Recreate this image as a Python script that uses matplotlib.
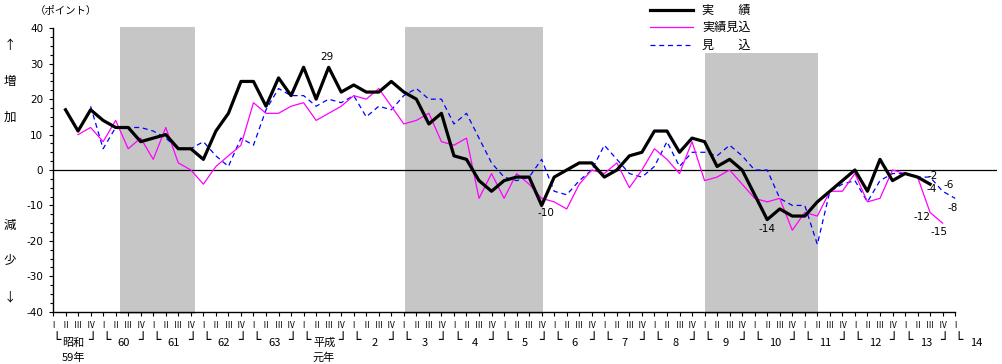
import numpy as np
import matplotlib
matplotlib.use('Agg')
import matplotlib.pyplot as plt
from matplotlib.lines import Line2D
from matplotlib.transforms import blended_transform_factory

plt.rcParams['font.family'] = ['Noto Sans CJK JP', 'DejaVu Sans']

# quarter index 0 = 昭和59年 I期
jisseki_start = 1
jisseki = [17, 11, 17, 14, 12, 12, 8, 9, 10, 6, 6, 3, 11, 16, 25, 25, 18, 26, 21, 29,
           20, 29, 22, 24, 22, 22, 25, 22, 20, 13, 16, 4, 3, -3, -6, -3, -2, -2, -10, -2,
           0, 2, 2, -2, 0, 4, 5, 11, 11, 5, 9, 8, 1, 3, 0, -7, -14, -11, -13, -13,
           -9, -6, -3, 0, -6, 3, -3, -1, -2, -4]

mikomi_j_start = 2
mikomi_j = [10, 12, 8, 14, 6, 9, 3, 12, 2, 0, -4, 1, 4, 7, 19, 16, 16, 18, 19, 14,
            16, 18, 21, 20, 23, 18, 13, 14, 16, 8, 7, 9, -8, -1, -8, -1, -4, -8, -9, -11,
            -4, 0, -1, 2, -5, 0, 6, 3, -1, 8, -3, -2, 0, -4, -8, -9, -8, -17, -12, -13,
            -6, -6, -1, -9, -8, 0, -1, -2, -12, -15]

mikomi_start = 3
mikomi = [18, 6, 12, 12, 12, 11, 9, 6, 6, 8, 4, 1, 9, 7, 17, 23, 21, 21, 18, 20,
          19, 21, 15, 18, 17, 21, 23, 20, 20, 13, 16, 9, 2, -2, -3, -2, 3, -6, -7, -3,
          0, 7, 3, -1, -2, 1, 8, 1, 5, 5, 4, 7, 4, 0, 0, -8, -10, -10, -21, -6,
          -4, -3, -9, -3, -1, -1, -2, -2, -6, -8]

# recession shading (quarter index from, to, top value)
shades = [(5.35, 11.35, 40.5), (28.1, 39.1, 40.5), (52.0, 61.05, 33)]

years = ['昭和', '60', '61', '62', '63', '平成', '2', '3', '4', '5', '6', '7',
         '8', '9', '10', '11', '12', '13', '14']
year_notes = {0: '59年', 5: '元年'}
quarters = ['Ⅰ', 'Ⅱ', 'Ⅲ', 'Ⅳ']
n_q = 72

# labelled points: (series, quarter, text, dx px, dy px up)
notes = [('j', 22, '29', -2, 10), ('j', 39, '-10', 4, -8), ('j', 57, '-14', 0, -9),
         ('m', 70, '-2', 3, 1), ('j', 70, '-4', 2, -5), ('mj', 70, '-12', -8, -4),
         ('m', 71, '-6', 6, 6), ('mj', 71, '-15', -4, -9), ('m', 72, '-8', -2, -10)]

W, H = 1002, 364
fig = plt.figure(figsize=(W / 100, H / 100), dpi=100)
ax = fig.add_axes([53 / W, 1 - 311.7 / H, (997 - 53) / W, 283.4 / H])
ax.set_xlim(0, (997 - 53) / 12.53)
ax.set_ylim(-40, 40)

for x0, x1, top in shades:
    ax.axvspan(x0, x1, ymin=-0.008, ymax=(top + 40) / 80, facecolor='#c6c6c6',
               edgecolor='none', clip_on=False, zorder=0)

ax.axhline(0, color='black', lw=0.9, zorder=1)

xj = np.arange(jisseki_start, jisseki_start + len(jisseki))
xmj = np.arange(mikomi_j_start, mikomi_j_start + len(mikomi_j))
xm = np.arange(mikomi_start, mikomi_start + len(mikomi))
ax.plot(xm, mikomi, color='#0000ff', lw=0.9, dashes=(4, 3), zorder=2)
ax.plot(xmj, mikomi_j, color='#ff00ff', lw=0.9, zorder=3)
ax.plot(xj, jisseki, color='black', lw=2.3, zorder=4)

series = {'j': (xj, jisseki), 'mj': (xmj, mikomi_j), 'm': (xm, mikomi)}
for key, q, txt, dx, dy in notes:
    xs, ys = series[key]
    val = ys[list(xs).index(q)]
    ax.annotate(txt, (q, val), xytext=(dx, dy), textcoords='offset pixels',
                ha='center', va='center', fontsize=7.5, family='DejaVu Sans', zorder=5)

for s in ['top', 'right']:
    ax.spines[s].set_visible(False)
ax.spines['left'].set_linewidth(1.0)
ax.spines['bottom'].set_linewidth(1.0)
ax.spines['bottom'].set_bounds(0, n_q)

ax.set_yticks(np.arange(-40, 41, 10))
ax.set_yticks(np.arange(-40, 41, 2.5), minor=True)
ax.set_yticklabels([str(v) for v in range(-40, 41, 10)], family='DejaVu Sans', fontsize=7.5)
ax.tick_params(axis='y', which='major', length=3, width=0.8, pad=4)
ax.tick_params(axis='y', which='minor', length=2, width=0.8)
ax.set_xticks(np.arange(0, n_q + 1))
ax.set_xticklabels([])
ax.tick_params(axis='x', length=3, width=0.8)

tr = blended_transform_factory(ax.transData, fig.transFigure)
for q in range(n_q + 1):
    ax.text(q, 1 - 325 / H, quarters[q % 4], transform=tr, ha='center', va='center',
            fontsize=6)
for k, name in enumerate(years):
    q0 = 4 * k
    ax.text(q0 + 0.25, 1 - 340 / H, '└', transform=tr, ha='center', va='center',
            fontsize=10, family='DejaVu Sans')
    ax.text(q0 + 1.65, 1 - 343 / H, name, transform=tr, ha='center', va='center', fontsize=8)
    if k < len(years) - 1:
        ax.text(q0 + 3.1, 1 - 340 / H, '┘', transform=tr, ha='center', va='center',
                fontsize=10, family='DejaVu Sans')
    if k in year_notes:
        ax.text(q0 + 1.6, 1 - 358 / H, year_notes[k], transform=tr, ha='center',
                va='center', fontsize=8)

# left side labels
for txt, py in [('↑', 45), ('増', 81), ('加', 117), ('減', 225), ('少', 260), ('↓', 297)]:
    fig.text(9.5 / W, 1 - py / H, txt, ha='center', va='center', fontsize=9)
fig.text(66 / W, 1 - 11 / H, '（ポイント）', ha='center', va='center', fontsize=7.5)

# legend
leg = [('実　　績', 'black', 2.3, None, 10), ('実績見込', '#ff00ff', 0.9, None, 27),
       ('見　　込', '#0000ff', 0.9, (4, 3), 45)]
for txt, col, lw, dash, py in leg:
    ln = Line2D([650 / W, 693 / W], [1 - py / H, 1 - py / H], transform=fig.transFigure,
                color=col, lw=lw)
    if dash:
        ln.set_dashes(dash)
    fig.add_artist(ln)
    fig.text(702 / W, 1 - py / H, txt, ha='left', va='center', fontsize=8.7)

fig.savefig('out.png', dpi=100)
